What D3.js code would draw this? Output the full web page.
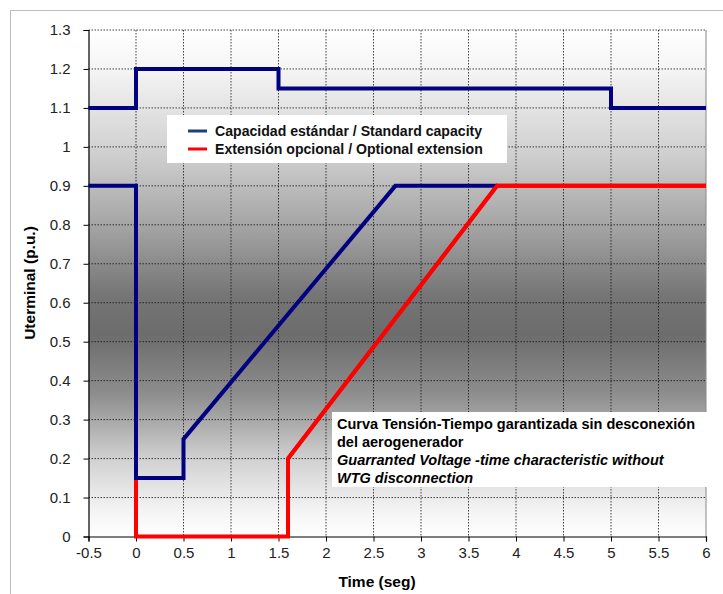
<!DOCTYPE html>
<html><head><meta charset="utf-8">
<script src="https://cdn.jsdelivr.net/npm/d3@7"></script>
<style>body{margin:0;background:#fff}text{font-family:"Liberation Sans",Arial,sans-serif}</style>
</head><body><svg id="c" width="723" height="594"></svg>
<script>
const xTicks = [-0.5,0,0.5,1,1.5,2,2.5,3,3.5,4,4.5,5,5.5,6];
const yTicks = [0,0.1,0.2,0.3,0.4,0.5,0.6,0.7,0.8,0.9,1,1.1,1.2,1.3];
const upperT = [-0.5,0,0,1.5,1.5,5,5,6];
const upperV = [1.1,1.1,1.2,1.2,1.15,1.15,1.1,1.1];
const lowerT = [-0.5,0,0,0.5,0.5,2.73,3.8];
const lowerV = [0.9,0.9,0.15,0.15,0.25,0.9,0.9];
const extT = [0,0,1.6,1.6,3.8,6];
const extV = [0.15,0,0,0.2,0.9,0.9];
const legendLabels = ["Capacidad estándar / Standard capacity","Extensión opcional / Optional extension"];
const noteLines = ["Curva Tensión-Tiempo garantizada sin desconexión","del aerogenerador","Guarranted Voltage -time characteristic without","WTG disconnection"];
const blue = "#000080", red = "#ff0000";

const svg = d3.select("#c");
const L=88.5,R=706,T=30,B=536.5;
const x = d3.scaleLinear().domain([-0.5,6]).range([L,R]);
const y = d3.scaleLinear().domain([0,1.3]).range([B,T]);

svg.append("rect").attr("x",10.5).attr("y",10.5).attr("width",720).attr("height",600)
  .attr("fill","none").attr("stroke","#bbb");

const defs = svg.append("defs");
const g = defs.append("linearGradient").attr("id","bg").attr("x1",0).attr("y1",0).attr("x2",0).attr("y2",1);
[[0,"#ffffff"],[0.08,"#f4f4f4"],[0.25,"#cecece"],[0.4,"#a0a0a0"],[0.52,"#767676"],[0.6,"#6c6c6c"],[0.72,"#8e8e8e"],[0.85,"#d2d2d2"],[0.95,"#f4f4f4"],[1,"#ffffff"]]
 .forEach(([o,c])=>g.append("stop").attr("offset",o).attr("stop-color",c));
svg.append("rect").attr("x",L).attr("y",T).attr("width",R-L).attr("height",B-T).attr("fill","url(#bg)");

// grid
svg.append("g").selectAll("line").data(xTicks.slice(1,-1)).join("line")
  .attr("x1",d=>x(d)).attr("x2",d=>x(d)).attr("y1",T).attr("y2",B)
  .attr("stroke","#111").attr("stroke-width",0.8).attr("stroke-dasharray","1.5,1.5");
svg.append("g").selectAll("line").data(yTicks.slice(1)).join("line")
  .attr("x1",L).attr("x2",R).attr("y1",d=>y(d)).attr("y2",d=>y(d))
  .attr("stroke","#111").attr("stroke-width",0.8).attr("stroke-dasharray","1.5,1.5");
svg.append("line").attr("x1",R).attr("x2",R).attr("y1",T).attr("y2",B).attr("stroke","#888").attr("stroke-width",1);

// axes
const yAx = svg.append("g").attr("transform",`translate(${L},0)`)
  .call(d3.axisLeft(y).tickValues(yTicks).tickFormat(d=>d3.format("")(+d.toFixed(1))).tickSize(5).tickPadding(13));
const xAx = svg.append("g").attr("transform",`translate(0,${B})`)
  .call(d3.axisBottom(x).tickValues(xTicks).tickFormat(d=>String(d)).tickSize(5).tickPadding(6));
[yAx,xAx].forEach(a=>{a.select(".domain").attr("stroke","#000").attr("stroke-width",1.2);
  a.selectAll(".tick line").attr("stroke","#000");
  a.selectAll("text").attr("font-size",15).attr("fill","#222").attr("font-family","Liberation Sans, Arial, sans-serif");});

// lines
const line = d3.line().x(d=>x(d[0])).y(d=>y(d[1]));
const mk = (ts,vs)=>ts.map((t,i)=>[t,vs[i]]);
svg.append("path").attr("d",line(mk(extT,extV))).attr("fill","none").attr("stroke",red).attr("stroke-width",4);
svg.append("path").attr("d",line(mk(upperT,upperV))).attr("fill","none").attr("stroke",blue).attr("stroke-width",4);
svg.append("path").attr("d",line(mk(lowerT,lowerV))).attr("fill","none").attr("stroke",blue).attr("stroke-width",4);
svg.append("path").attr("d",line(mk(extT.slice(3),extV.slice(3)))).attr("fill","none").attr("stroke",red).attr("stroke-width",4);

// legend
svg.append("rect").attr("x",167).attr("y",115).attr("width",340).attr("height",48).attr("fill","#fff");
legendLabels.forEach((l,i)=>{
  const yy = 131 + i*18;
  svg.append("line").attr("x1",188).attr("x2",207).attr("y1",yy).attr("y2",yy).attr("stroke",i?red:"#1f3f7a").attr("stroke-width",3);
  svg.append("text").attr("x",215).attr("y",yy+5).attr("font-size",14.1).attr("font-weight","bold").attr("fill","#111").text(l);
});

// note box
svg.append("rect").attr("x",332).attr("y",412).attr("width",376).attr("height",75).attr("fill","#fff");
noteLines.forEach((l,i)=>{
  svg.append("text").attr("x",337).attr("y",429+i*18).attr("font-size",14.5).attr("font-weight","bold")
    .attr("font-style",i>=2?"italic":"normal").attr("fill","#000").text(l);
});

// axis titles
svg.append("text").attr("transform","translate(35,283) rotate(-90)").attr("text-anchor","middle")
  .attr("font-size",15.5).attr("font-weight","bold").text("Uterminal (p.u.)");
svg.append("text").attr("x",377).attr("y",587).attr("text-anchor","middle")
  .attr("font-size",15.5).attr("font-weight","bold").text("Time (seg)");
</script></body></html>
